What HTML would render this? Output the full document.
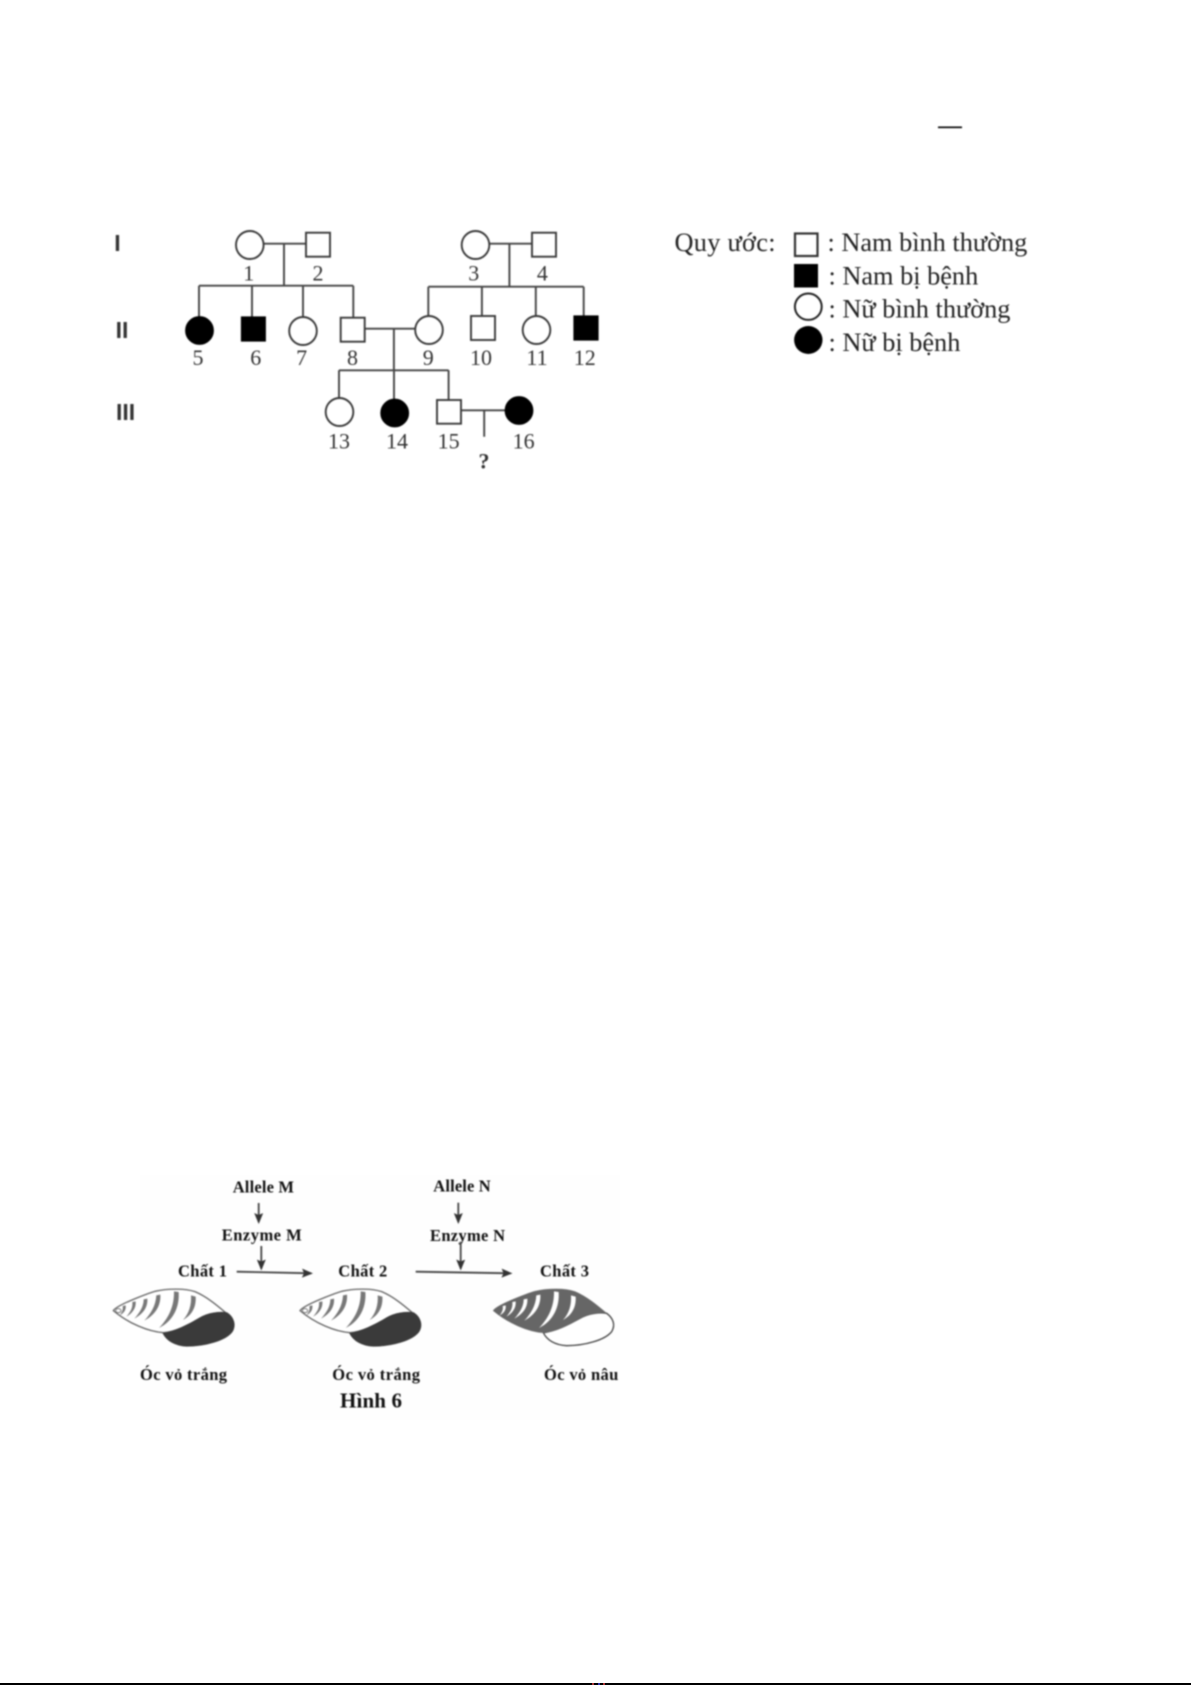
<!DOCTYPE html>
<html lang="vi"><head><meta charset="utf-8"><title>Phả hệ và Hình 6</title>
<style>
html,body{margin:0;padding:0;background:#fff;}
svg{display:block;position:absolute;left:0;top:0;}
text{font-family:"Liberation Serif","Noto Serif CJK SC",serif;fill:#1a1a1a;}
.n{font-size:22px;text-anchor:middle;fill:#333;}
.g{font-family:"Liberation Sans",sans-serif;font-weight:bold;font-size:23px;text-anchor:middle;fill:#333;}
.l{font-size:26.3px;fill:#222;}
.b{font-weight:bold;font-size:16.5px;fill:#111;}
.ln{stroke:#444;stroke-width:1.9;fill:none;}
.o{stroke:#3a3a3a;stroke-width:1.9;fill:#fff;}
.f{stroke:#000;stroke-width:1.2;fill:#000;}
.blur{filter:blur(0.7px);}
</style></head>
<body>
<svg width="1191" height="1685" viewBox="0 0 1191 1685" xmlns="http://www.w3.org/2000/svg">
<defs>
<marker id="ah" markerWidth="11" markerHeight="9" refX="9" refY="4.5" orient="auto" markerUnits="userSpaceOnUse"><path d="M0,0 L11,4.5 L0,9 L2,4.5 Z" fill="#333"/></marker>
<g id="stripes">
<path d="M258,46 L272,50 C274,80 262,105 234,120 C252,100 260,75 258,46 Z"/>
<path d="M207,34 L221,36 C224,80 206,122 162,144 C190,115 208,80 207,34 Z"/>
<path d="M154,46 L166,44 C168,78 150,105 118,122 C138,100 152,78 154,46 Z"/>
<path d="M116,58 L127,56 C129,82 114,102 88,116 C104,98 116,80 116,58 Z"/>
<path d="M82,66 L92,64 C94,84 82,100 64,110 C76,96 84,84 82,66 Z"/>
<path d="M53,78 L62,76 C64,90 56,100 44,106 C52,96 55,88 53,78 Z"/>
</g>
<g id="sh1">
<path d="M25,92 C30,84 55,70 100,52 C120,44 135,38 150,34 C190,25 240,25 270,35 C305,50 335,75 362,98 C345,96 310,100 285,115 C250,135 215,155 175,158 C130,155 70,130 25,92 Z" fill="#fff" stroke="#666" stroke-width="4"/>
<use href="#stripes" fill="#777"/>
<ellipse cx="40" cy="92" rx="8" ry="6" fill="#fff" stroke="#777" stroke-width="3"/>
<path d="M174,160 C205,155 250,135 285,113 C310,98 345,94 366,98 C387,112 394,135 382,155 C362,182 300,199 245,199 C210,197 185,182 174,160 Z" fill="#3a3a3a" stroke="#3a3a3a" stroke-width="2"/>
</g>
<g id="sh3">
<path d="M175,158 C205,155 250,135 285,115 C310,100 345,96 365,100 C385,115 392,135 380,155 C360,180 300,197 245,197 C210,195 185,180 175,158 Z" fill="#fff" stroke="#444" stroke-width="4"/>
<path d="M25,92 C30,84 55,70 100,52 C120,44 135,38 150,34 C190,25 240,25 270,35 C305,50 335,75 362,98 C345,96 310,100 285,115 C250,135 215,155 175,158 C130,155 70,130 25,92 Z" fill="#666" stroke="#666" stroke-width="2"/>
<use href="#stripes" fill="#fff"/>
</g>
</defs>

<g class="blur">
<!-- generation labels -->
<text class="g" x="117.5" y="251">I</text>
<text class="g" x="122" y="338">II</text>
<text class="g" x="125.6" y="420">III</text>

<!-- connectors -->
<path class="ln" d="M264,243.7H306M284,243.7V285.7M199,285.7H353.3M199,285.7V317M252,285.7V317M303,285.7V317M353.3,285.7V317"/>
<path class="ln" d="M489,243.7H532M509.4,243.7V286.7M428.3,286.7H583.7M428.3,286.7V316M481.9,286.7V316M535.8,286.7V316M583.7,286.7V316"/>
<path class="ln" d="M364.8,328.7H415M393.9,328.7V370.3M339,370.3H448.6M339,370.3V398M394,370.3V399M448.6,370.3V400"/>
<path class="ln" d="M461,410.3H505.6M484.2,410.3V436.7"/>

<!-- gen I -->
<ellipse class="o" cx="249.8" cy="245" rx="13.8" ry="14"/>
<rect class="o" x="306" y="232.7" width="24" height="24"/>
<ellipse class="o" cx="475.5" cy="245" rx="13.8" ry="14"/>
<rect class="o" x="532" y="232.7" width="24" height="24"/>

<!-- gen II -->
<ellipse class="f" cx="199.5" cy="330.5" rx="13.8" ry="13.8"/>
<rect class="f" x="241.5" y="317" width="23.8" height="24"/>
<ellipse class="o" cx="303" cy="331" rx="13.8" ry="14"/>
<rect class="o" x="340.7" y="317.7" width="24" height="24"/>
<ellipse class="o" cx="429" cy="330" rx="13.8" ry="14"/>
<rect class="o" x="471" y="316" width="24" height="24"/>
<ellipse class="o" cx="536.5" cy="330" rx="13.8" ry="14"/>
<rect class="f" x="574" y="316" width="24" height="24"/>

<!-- gen III -->
<ellipse class="o" cx="339.5" cy="412" rx="13.8" ry="14"/>
<ellipse class="f" cx="394.7" cy="413" rx="13.8" ry="13.8"/>
<rect class="o" x="437" y="400" width="24" height="23.7"/>
<ellipse class="f" cx="519" cy="410.5" rx="13.8" ry="13.8"/>

<!-- numbers -->
<text class="n" x="248.8" y="280.7">1</text>
<text class="n" x="318" y="280.7">2</text>
<text class="n" x="473.8" y="280.7">3</text>
<text class="n" x="542.4" y="280.7">4</text>
<text class="n" x="198" y="365">5</text>
<text class="n" x="255.7" y="365">6</text>
<text class="n" x="301.6" y="365">7</text>
<text class="n" x="352.5" y="365">8</text>
<text class="n" x="428.3" y="365">9</text>
<text class="n" x="481" y="365">10</text>
<text class="n" x="537" y="365">11</text>
<text class="n" x="584.8" y="365">12</text>
<text class="n" x="339" y="448.7">13</text>
<text class="n" x="397" y="448.7">14</text>
<text class="n" x="448.6" y="448.7">15</text>
<text class="n" x="523.6" y="448.7">16</text>
<text class="n" x="484" y="468.5" style="font-weight:bold">?</text>

<!-- legend -->
<line x1="938" y1="127.3" x2="962" y2="127.3" stroke="#000" stroke-width="1.6"/>
<text class="l" x="674.5" y="251" textLength="101">Quy ước:</text>
<rect x="795" y="233.5" width="22.5" height="22.5" fill="#fff" stroke="#333" stroke-width="2.2"/>
<rect x="794" y="264" width="24" height="23.5" fill="#000"/>
<ellipse cx="808.3" cy="306.7" rx="13.4" ry="13.2" fill="#fff" stroke="#222" stroke-width="2"/>
<ellipse cx="808.3" cy="340" rx="14.2" ry="14" fill="#000"/>
<text class="l" x="827.5" y="251">: Nam bình thường</text>
<text class="l" x="828.5" y="284.3">: Nam bị bệnh</text>
<text class="l" x="828.5" y="317.7">: Nữ bình thường</text>
<text class="l" x="828.5" y="351">: Nữ bị bệnh</text>
</g>

<!-- Figure 6 -->
<rect x="140" y="1175" width="480" height="245" fill="#fefefe"/>
<g style="filter:blur(0.8px)">
<text class="b" x="232.7" y="1192.3" textLength="61.3">Allele M</text>
<text class="b" x="221.7" y="1240.7" textLength="80">Enzyme M</text>
<text class="b" x="178" y="1276.7" textLength="49">Chất 1</text>
<text class="b" x="338.3" y="1276.7" textLength="49">Chất 2</text>
<text class="b" x="433.3" y="1191.7" textLength="57.4">Allele N</text>
<text class="b" x="430" y="1241" textLength="75">Enzyme N</text>
<text class="b" x="540" y="1276.7" textLength="49">Chất 3</text>
<text class="b" x="140" y="1380" textLength="87">Óc vỏ trắng</text>
<text class="b" x="332.3" y="1380" textLength="87.7">Óc vỏ trắng</text>
<text class="b" x="544" y="1380" textLength="74.3">Óc vỏ nâu</text>
<text class="b" x="340" y="1407.3" textLength="62" style="font-size:21px">Hình 6</text>

<g stroke="#444" stroke-width="1.8" fill="none">
<line x1="258.7" y1="1203" x2="258.7" y2="1222" marker-end="url(#ah)"/>
<line x1="261.3" y1="1246" x2="261.3" y2="1268.5" marker-end="url(#ah)"/>
<line x1="236.7" y1="1271.7" x2="311" y2="1273.3" marker-end="url(#ah)"/>
<line x1="458.3" y1="1202.7" x2="458.3" y2="1222" marker-end="url(#ah)"/>
<line x1="460.7" y1="1241.7" x2="460.7" y2="1268.5" marker-end="url(#ah)"/>
<line x1="415.7" y1="1271.7" x2="510.5" y2="1273.3" marker-end="url(#ah)"/>
</g>

<g transform="translate(105,1280) scale(0.3333)"><use href="#sh1"/></g>
<g transform="translate(291.7,1280) scale(0.3333)"><use href="#sh1"/></g>
<g transform="translate(485,1280) scale(0.3333)"><use href="#sh3"/></g>
</g>

<!-- bottom bar -->
<rect x="0" y="1683" width="1191" height="2" fill="#000"/>
<rect x="592" y="1683" width="2" height="2" fill="#a33"/>
<rect x="598" y="1683" width="2" height="2" fill="#33a"/>
<rect x="603" y="1683" width="2" height="2" fill="#a33"/>
</svg>
</body></html>
